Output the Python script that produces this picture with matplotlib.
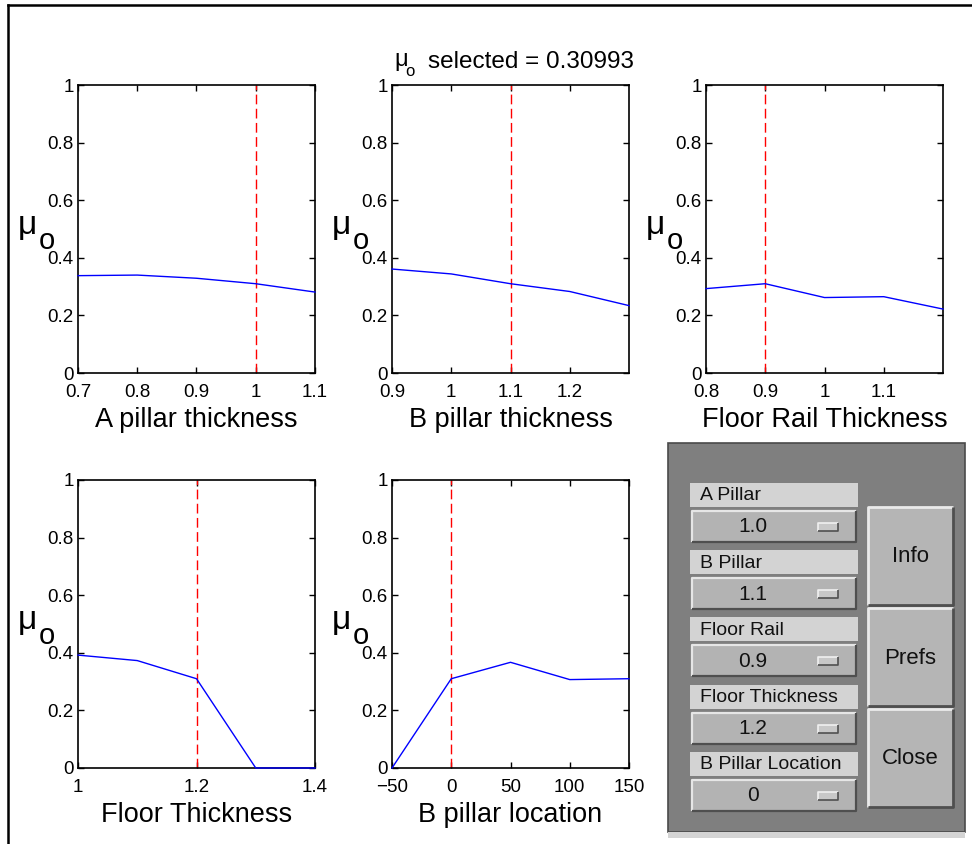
import matplotlib
matplotlib.use('Agg')
import matplotlib.pyplot as plt
from matplotlib.patches import Rectangle

plt.rcParams['font.family'] = ['Liberation Sans', 'DejaVu Sans']

W, H = 972, 844

# data
a_pillar = [0.7, 0.8, 0.9, 1.0, 1.1]
mu_a_pillar = [0.338, 0.340, 0.329, 0.310, 0.281]
b_pillar = [0.9, 1.0, 1.1, 1.2, 1.3]
mu_b_pillar = [0.361, 0.344, 0.310, 0.283, 0.234]
floor_rail = [0.8, 0.9, 1.0, 1.1, 1.2]
mu_floor_rail = [0.293, 0.310, 0.262, 0.265, 0.222]
floor_thick = [1.0, 1.1, 1.2, 1.3, 1.4]
mu_floor_thick = [0.392, 0.373, 0.310, 0.0, 0.0]
b_location = [-50, 0, 50, 100, 150]
mu_b_location = [0.0, 0.310, 0.367, 0.307, 0.310]

selected = [1.0, 1.1, 0.9, 1.2, 0]
xlabels = ['A pillar thickness', 'B pillar thickness', 'Floor Rail Thickness',
           'Floor Thickness', 'B pillar location']
xticks = [[0.7, 0.8, 0.9, 1.0, 1.1], [0.9, 1.0, 1.1, 1.2], [0.8, 0.9, 1.0, 1.1],
          [1.0, 1.2, 1.4], [-50, 0, 50, 100, 150]]
xticklabels = [['0.7', '0.8', '0.9', '1', '1.1'], ['0.9', '1', '1.1', '1.2'],
               ['0.8', '0.9', '1', '1.1'], ['1', '1.2', '1.4'],
               ['\u221250', '0', '50', '100', '150']]
yticks = [0, 0.2, 0.4, 0.6, 0.8, 1.0]
yticklabels = ['0', '0.2', '0.4', '0.6', '0.8', '1']
mu_selected = 0.30993

slider_names = ['A Pillar', 'B Pillar', 'Floor Rail', 'Floor Thickness', 'B Pillar Location']
slider_values = ['1.0', '1.1', '0.9', '1.2', '0']
buttons = ['Info', 'Prefs', 'Close']

series = [(a_pillar, mu_a_pillar), (b_pillar, mu_b_pillar), (floor_rail, mu_floor_rail),
          (floor_thick, mu_floor_thick), (b_location, mu_b_location)]

fig = plt.figure(figsize=(W / 100, H / 100), dpi=100)


def px_axes(x, y, w, h):
    return fig.add_axes([x / W, 1 - (y + h) / H, w / W, h / H])


boxes = [(78, 85), (392, 85), (706, 85), (78, 480), (392, 480)]
for i, (bx, by) in enumerate(boxes):
    ax = px_axes(bx, by, 237, 288)
    xs, ys = series[i]
    ax.plot(xs, ys, color='#0000ff', lw=1, zorder=3, clip_on=False)
    ax.axvline(selected[i], color='#ff0000', lw=1, dashes=(7, 3.2))
    ax.set_xlim(xs[0], xs[-1])
    ax.set_ylim(0, 1)
    ax.set_xticks(xticks[i])
    ax.set_xticklabels(xticklabels[i])
    ax.set_yticks(yticks)
    ax.set_yticklabels(yticklabels)
    ax.tick_params(direction='in', length=4, width=1, top=True, right=True,
                   labelsize=13.5, pad=3)
    ax.tick_params(axis='x', pad=8)
    for sp in ax.spines.values():
        sp.set_linewidth(1.2)
    ax.set_xlabel(xlabels[i], fontsize=19.5, labelpad=4)
    # y label mu_o, drawn horizontally like MATLAB
    fig.text((bx - 60) / W, 1 - (by + 149) / H, '\u03bc', fontsize=24,
             ha='left', va='baseline')
    fig.text((bx - 39) / W, 1 - (by + 164) / H, 'o', fontsize=21,
             ha='left', va='baseline')

# title
fig.text(394 / W, 1 - 66 / H, '\u03bc', fontsize=17, ha='left', va='baseline')
fig.text(405 / W, 1 - 76 / H, 'o', fontsize=12, ha='left', va='baseline')
fig.text(428 / W, 1 - 68 / H, 'selected = %.5f' % mu_selected, fontsize=17.5,
         ha='left', va='baseline')

# overlay in pixel coords for the border and the control panel
ov = fig.add_axes([0, 0, 1, 1], zorder=5)
ov.set_xlim(0, W)
ov.set_ylim(H, 0)
ov.axis('off')
ov.patch.set_alpha(0)

ov.plot([8, 8], [5, H], color='black', lw=1.8)
ov.plot([8, W], [5, 5], color='black', lw=1.8)


def bevel(x, y, w, h, face, light='#ececec', dark='#5a5a5a', lw=1.6):
    ov.add_patch(Rectangle((x, y), w, h, facecolor=face, edgecolor='none'))
    ov.plot([x, x, x + w], [y + h, y, y], color=light, lw=lw, solid_capstyle='butt')
    ov.plot([x, x + w, x + w], [y + h, y + h, y], color=dark, lw=lw, solid_capstyle='butt')


ov.add_patch(Rectangle((668, 443), 297, 389, facecolor='#7f7f7f',
                       edgecolor='#4a4a4a', lw=1.2))
ov.add_patch(Rectangle((668, 832), 297, 6, facecolor='#d4d4d4', edgecolor='none'))

for k, (name, val) in enumerate(zip(slider_names, slider_values)):
    y0 = 483 + k * 67.2
    ov.add_patch(Rectangle((690, y0), 168, 24, facecolor='#d3d3d3', edgecolor='none'))
    ov.text(700, y0 + 13, name, fontsize=14, ha='left', va='center', color='#111111')
    bevel(692, y0 + 28, 164, 31, '#b3b3b3', light='#e6e6e6', dark='#4f4f4f')
    ov.text(753, y0 + 44, val, fontsize=15, ha='center', va='center', color='#111111')
    bevel(818, y0 + 40, 20, 8, '#c8c8c8', light='#f0f0f0', dark='#505050', lw=1.2)

for k, name in enumerate(buttons):
    y0 = 507 + k * 101
    bevel(868, y0, 85, 98, '#b5b5b5', light='#eaeaea', dark='#4f4f4f', lw=2)
    ov.text(910, y0 + 50, name, fontsize=16, ha='center', va='center', color='#111111')

fig.savefig('out.png', dpi=100)
